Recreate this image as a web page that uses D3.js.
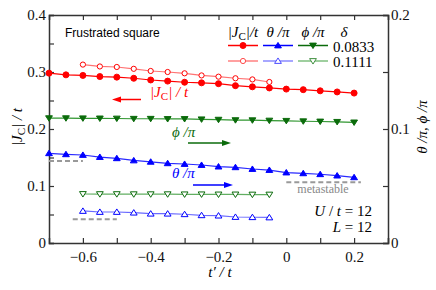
<!DOCTYPE html>
<html>
<head>
<meta charset="utf-8">
<script src="https://cdn.jsdelivr.net/npm/d3@7"></script>
<style>
  body { margin: 0; background: #fff; }
  svg text { font-family: "Liberation Serif", "Times New Roman", Times, "DejaVu Serif", serif; }
</style>
</head>
<body>
<svg id="chart" width="436" height="290"></svg>
<script>
// t'/t values for the two fillings
const tpA = [-0.7, -0.65, -0.6, -0.55, -0.5, -0.45, -0.4, -0.35, -0.3, -0.25,
  -0.2, -0.15, -0.1, -0.05, 0, 0.05, 0.1, 0.15, 0.2];
const tpB = [-0.6, -0.55, -0.5, -0.45, -0.4, -0.35, -0.3, -0.25, -0.2, -0.15, -0.1, -0.05];

// delta = 0.0833
const jcA = [0.298, 0.295, 0.294, 0.292, 0.291, 0.289, 0.286, 0.284, 0.282, 0.281,
  0.2795, 0.276, 0.274, 0.272, 0.270, 0.269, 0.267, 0.265, 0.263];
const thetaA = [0.0787, 0.0778, 0.0772, 0.0754, 0.0743, 0.0724, 0.0712, 0.0699, 0.0693, 0.0684,
  0.0670, 0.0664, 0.0649, 0.0640, 0.0618, 0.0611, 0.0603, 0.0591, 0.0576];
const phiA = [0.1095, 0.1095, 0.1094, 0.1093, 0.1092, 0.1090, 0.1090, 0.1088, 0.1088, 0.1085,
  0.1082, 0.1078, 0.1077, 0.1074, 0.1072, 0.1068, 0.1066, 0.1063, 0.1058];

// delta = 0.1111
const jcB = [0.313, 0.3097, 0.3088, 0.3056, 0.3018, 0.300, 0.2977, 0.294, 0.2918, 0.289, 0.287, 0.2825];
const thetaB = [0.0281, 0.0272, 0.0272, 0.0266, 0.0257, 0.0257, 0.0252, 0.0243, 0.0240, 0.0228, 0.0226, 0.0224];
const phiB = [0.0430, 0.0429, 0.0429, 0.0428, 0.0428, 0.0428, 0.0427, 0.0427, 0.0426, 0.0426, 0.0425, 0.0425];

// metastable theta/pi levels: [t' from, t' to, value]
const metastable = [[-0.7, -0.6, 0.0719], [-0.63, -0.5, 0.0208], [0, 0.22, 0.0532]];

const deltas = ["0.0833", "0.1111"];
const xTicks = [-0.6, -0.4, -0.2, 0, 0.2];
const yLeftTicks = [0, 0.1, 0.2, 0.3, 0.4];
const yRightTicks = [0, 0.1, 0.2];

const SERIF = "'Liberation Serif', 'Times New Roman', Times, 'DejaVu Serif', serif";
const SANS = "'Liberation Sans', Arial, Helvetica, sans-serif";

const svg = d3.select("#chart");
const margin = { top: 15, right: 48, bottom: 47, left: 49 };
const W = 436, H = 290;

const x = d3.scaleLinear().domain([-0.7, 0.3]).range([margin.left, W - margin.right]);
const yL = d3.scaleLinear().domain([0, 0.4]).range([H - margin.bottom, margin.top]);
const yR = d3.scaleLinear().domain([0, 0.2]).range([H - margin.bottom, margin.top]);

const RED = "#ff0000", BLUE = "#0000ff", GREEN = "#0b6b0b";
const axisColor = "#333";

// axes
function styleAxis(g) {
  g.attr("font-family", null);
  g.select(".domain").attr("stroke", axisColor).attr("stroke-width", 1.5);
  g.selectAll(".tick line").attr("stroke", axisColor).attr("stroke-width", 1.2);
  g.selectAll(".tick text").attr("font-size", 15).attr("fill", "#111")
    .style("font-family", SERIF);
}
const fmt = d => d === 0 ? "0" : d3.format(".1f")(d);
const isMajor = (list, d) => list.some(v => Math.abs(v - d) < 1e-6);

svg.append("g").attr("transform", `translate(0,${yL(0)})`)
  .call(d3.axisBottom(x).tickValues(d3.range(-0.6, 0.31, 0.1)).tickSize(-5).tickPadding(8)
    .tickFormat(d => isMajor(xTicks, d) ? fmt(Math.round(d * 10) / 10) : ""))
  .call(styleAxis);
svg.append("g").attr("transform", `translate(0,${yL(0.4)})`)
  .call(d3.axisTop(x).tickValues(d3.range(-0.6, 0.31, 0.1)).tickSize(-5).tickFormat(""))
  .call(styleAxis);
svg.append("g").attr("transform", `translate(${x(-0.7)},0)`)
  .call(d3.axisLeft(yL).tickValues(d3.range(0, 0.41, 0.05)).tickSize(-5).tickPadding(3)
    .tickFormat(d => isMajor(yLeftTicks, d) ? fmt(Math.round(d * 10) / 10) : ""))
  .call(styleAxis);
svg.append("g").attr("transform", `translate(${x(0.3)},0)`)
  .call(d3.axisRight(yR).tickValues(d3.range(0, 0.21, 0.05)).tickSize(-5).tickPadding(3)
    .tickFormat(d => isMajor(yRightTicks, d) ? fmt(Math.round(d * 10) / 10) : ""))
  .call(styleAxis);

// helper for |J_C| / t
function jcText(sel, tail) {
  sel.append("tspan").text("|J");
  sel.append("tspan").attr("font-style", "normal").attr("font-size", 11).attr("dy", 3).text("C");
  sel.append("tspan").attr("dy", -3).text(tail);
}

// axis titles
svg.append("text").attr("x", 220).attr("y", 277).attr("text-anchor", "middle")
  .attr("font-size", 15).attr("font-style", "italic").style("font-family", SERIF).text("t\u2032 / t");
svg.append("text").attr("transform", "translate(22,127) rotate(-90)")
  .attr("text-anchor", "middle").attr("font-size", 15).attr("font-style", "italic")
  .style("font-family", SERIF).call(jcText, "| / t");
svg.append("text").attr("transform", "translate(427,127) rotate(-90)")
  .attr("text-anchor", "middle").attr("font-size", 15).attr("font-style", "italic")
  .style("font-family", SERIF).text("\u03b8 /\u03c0,  \u03d5 /\u03c0");

// metastable dashed lines
metastable.forEach(m => {
  svg.append("line").attr("x1", x(m[0])).attr("x2", x(m[1]))
    .attr("y1", yR(m[2])).attr("y2", yR(m[2]))
    .attr("stroke", "#999").attr("stroke-width", 2).attr("stroke-dasharray", "5,3");
});

// series
const series = [
  { xs: tpA, ys: jcA, y: yL, color: RED, lineColor: RED, shape: "circle", filled: true },
  { xs: tpB, ys: jcB, y: yL, color: RED, lineColor: "#ff5050", shape: "circle", filled: false },
  { xs: tpA, ys: phiA, y: yR, color: GREEN, lineColor: "#2f962f", shape: "down", filled: true },
  { xs: tpB, ys: phiB, y: yR, color: GREEN, lineColor: "#3a9a3a", shape: "down", filled: false },
  { xs: tpA, ys: thetaA, y: yR, color: BLUE, lineColor: "#2a2aff", shape: "up", filled: true },
  { xs: tpB, ys: thetaB, y: yR, color: BLUE, lineColor: "#4444ff", shape: "up", filled: false }
];

function marker(g, shape, cx, cy, color, filled) {
  let el;
  if (shape === "circle") {
    el = g.append("circle").attr("cx", cx).attr("cy", cy).attr("r", filled ? 3 : 2.6);
  } else {
    const s = 3.4;
    const pts = shape === "up"
      ? [[cx - s, cy + s * 0.7], [cx + s, cy + s * 0.7], [cx, cy - s * 0.9]]
      : [[cx - s, cy - s * 0.7], [cx + s, cy - s * 0.7], [cx, cy + s * 0.9]];
    el = g.append("polygon").attr("points", pts.map(p => p.join(",")).join(" "));
  }
  el.attr("fill", filled ? color : "#fff").attr("stroke", color).attr("stroke-width", 1);
}

const line = d3.line();
series.forEach(s => {
  const pts = s.xs.map((v, i) => [x(v), s.y(s.ys[i])]);
  svg.append("path").attr("d", line(pts)).attr("fill", "none")
    .attr("stroke", s.lineColor).attr("stroke-width", 1.2)
    .attr("stroke-opacity", s.filled ? 1 : 0.8);
  const g = svg.append("g");
  pts.forEach(p => marker(g, s.shape, p[0], p[1], s.color, s.filled));
});

// legend
const legendCols = [
  { x0: 228, x1: 258, color: RED, light: "#ff8080", mid: "#ff4a4a", shape: "circle" },
  { x0: 263, x1: 293, color: BLUE, light: "#8a8aff", mid: "#4a4aff", shape: "up" },
  { x0: 298, x1: 328, color: GREEN, light: "#7fbf7f", mid: "#3f8f3f", shape: "down" }
];
const rowsY = [45.5, 61];
const head = svg.append("g").attr("font-size", 15).attr("font-style", "italic")
  .style("font-family", SERIF);
head.append("text").attr("x", 243).attr("y", 37).attr("text-anchor", "middle").call(jcText, "|/t");
head.append("text").attr("x", 278).attr("y", 37).attr("text-anchor", "middle").text("\u03b8 /\u03c0");
head.append("text").attr("x", 313).attr("y", 37).attr("text-anchor", "middle").text("\u03d5 /\u03c0");
head.append("text").attr("x", 344).attr("y", 37).attr("text-anchor", "middle").text("\u03b4");

deltas.forEach((d, r) => {
  const yy = rowsY[r];
  legendCols.forEach(c => {
    svg.append("line").attr("x1", c.x0).attr("x2", c.x1).attr("y1", yy).attr("y2", yy)
      .attr("stroke", r === 0 ? c.color : c.light).attr("stroke-width", 1.5);
    marker(svg, c.shape, (c.x0 + c.x1) / 2, yy, r === 0 ? c.color : c.mid, r === 0);
  });
  svg.append("text").attr("x", 333).attr("y", yy + 6).attr("font-size", 15)
    .style("font-family", SERIF).text(d);
});

// labels and arrows
svg.append("text").attr("x", 65).attr("y", 37).attr("font-size", 12)
  .style("font-family", SANS).text("Frustrated square");

function arrow(x1, x2, yy, color) {
  const dir = x2 > x1 ? 1 : -1;
  svg.append("line").attr("x1", x1).attr("x2", x2 - dir * 7).attr("y1", yy).attr("y2", yy)
    .attr("stroke", color).attr("stroke-width", 1.5);
  svg.append("polygon")
    .attr("points", `${x2},${yy} ${x2 - dir * 9},${yy - 3} ${x2 - dir * 9},${yy + 3}`)
    .attr("fill", color);
}
svg.append("text").attr("x", 150).attr("y", 97).attr("font-size", 15)
  .attr("font-style", "italic").attr("fill", RED).style("font-family", SERIF).call(jcText, "| / t");
arrow(141, 112, 99.5, RED);

svg.append("text").attr("x", 172).attr("y", 137).attr("font-size", 15)
  .attr("font-style", "italic").attr("fill", GREEN).style("font-family", SERIF).text("\u03d5 /\u03c0");
arrow(188, 231, 143, GREEN);

svg.append("text").attr("x", 172).attr("y", 178).attr("font-size", 15)
  .attr("font-style", "italic").attr("fill", BLUE).style("font-family", SERIF).text("\u03b8 /\u03c0");
arrow(193, 233, 185, BLUE);

svg.append("text").attr("x", 323).attr("y", 193).attr("text-anchor", "middle")
  .attr("font-size", 12).attr("fill", "#888").style("font-family", SERIF).text("metastable");

const u = svg.append("text").attr("x", 372).attr("y", 216).attr("text-anchor", "end")
  .attr("font-size", 15).style("font-family", SERIF);
u.append("tspan").attr("font-style", "italic").text("U");
u.append("tspan").text(" / ");
u.append("tspan").attr("font-style", "italic").text("t");
u.append("tspan").text(" = 12");
const l = svg.append("text").attr("x", 372).attr("y", 232).attr("text-anchor", "end")
  .attr("font-size", 15).style("font-family", SERIF);
l.append("tspan").attr("font-style", "italic").text("L");
l.append("tspan").text(" = 12");
</script>
</body>
</html>
